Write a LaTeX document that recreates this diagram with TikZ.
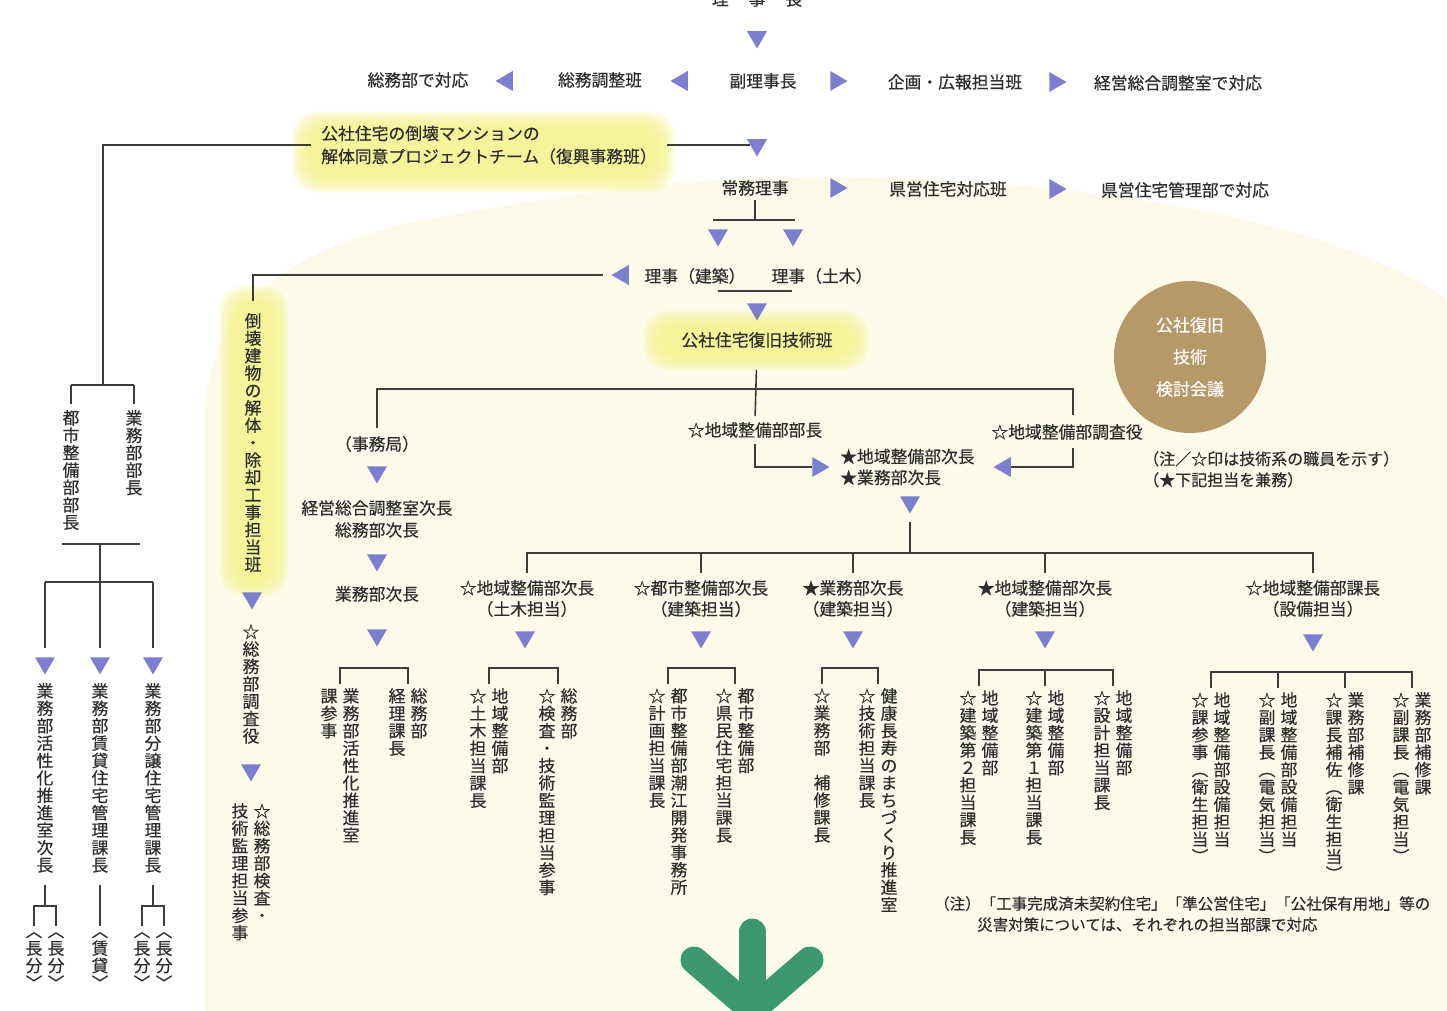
\documentclass[tikz,border=0pt]{standalone}
\usepackage{fontspec}
\setmainfont{Noto Sans CJK JP}[FakeBold=0.4]
\usetikzlibrary{shapes.geometric}
\definecolor{tricol}{RGB}{124,126,207}
\definecolor{lncol}{RGB}{60,60,60}
\definecolor{txtcol}{RGB}{45,45,45}
\definecolor{creamcol}{RGB}{252,250,233}
\definecolor{glowcol}{RGB}{247,243,140}
\definecolor{browncol}{RGB}{183,152,104}
\definecolor{greencol}{RGB}{58,152,108}

\def\vcolend{\vcolendmark}
\def\vgap{\relax}
\def\vcolA#1{\ifx#1\vcolend\else\hbox to 18pt{\hss#1\hss}\expandafter\vcolA\fi}
\newcommand\vcol[1]{\vtop{\baselineskip=17.4pt\lineskip=0pt\lineskiplimit=-100pt\vcolA#1\vcolend}}
\newcommand\vpair[2]{\hbox{\vcol{#1}\kern4pt\vcol{#2}}}
\newcommand\glowbox[5]{\foreach \k in {0,...,5}{\fill[glowcol, fill opacity=0.28, rounded corners=#5] ({#1+3*\k},{#2+3*\k}) rectangle ({#3-3*\k},{#4-3*\k});}}
\newcommand\brk[2]{\draw[conn] ([yshift=4pt]#1.north) -- ++(0,-16) -| ([yshift=4pt]#2.north);}
\newcommand\tck[1]{\draw[conn] ([yshift=4pt]#1.north) -- ++(0,-16);}

\tikzset{
  lbl/.style={inner sep=2pt, text=txtcol, font=\fontsize{16.8}{21}\selectfont},
  sml/.style={inner sep=2pt, text=txtcol, font=\fontsize{16}{21}\selectfont},
  vt/.style={inner sep=0pt, text=txtcol, font=\fontsize{16.8}{17.4}\selectfont},
  tribase/.style={regular polygon, regular polygon sides=3, fill=tricol, draw=none, minimum size=23pt, inner sep=0pt, outer sep=0pt},
  tdown/.style={tribase, regular polygon rotate=180},
  tleft/.style={tribase, regular polygon rotate=90},
  tright/.style={tribase, regular polygon rotate=-90},
  conn/.style={draw=lncol, line width=1.6pt}
}

\begin{document}
\begin{tikzpicture}[x=1pt,y=-1pt]
\useasboundingbox (0,0) rectangle (1447,1011);
\fill[white] (0,0) rectangle (1447,1011);
% cream wash
\fill[creamcol] (205,1011) -- (205,420) .. controls (205,300) and (300,240) .. (450,215) .. controls (600,190) and (700,172) .. (900,178) .. controls (1150,188) and (1350,230) .. (1447,300) -- (1447,1011) -- cycle;
% yellow glows
\glowbox{293}{112}{674}{192}{24pt}
\glowbox{220}{286}{288}{596}{24pt}
\glowbox{644}{311}{868}{370}{24pt}

% ===== top =====
\node[lbl] (chair) at (757,-1) {理\hspace{20pt}事\hspace{20pt}長};
\node[tdown] (a0) at (757,37) {};

\node[lbl] (somutaio) at (418,80) {総務部で対応};
\node[tleft] (a1) at (507,81) {};
\node[lbl] (somuchosei) at (600,80) {総務調整班};
\node[tleft] (a2) at (682,81) {};
\node[lbl] (fuku) at (763,81) {副理事長};
\node[tright] (a3) at (836,81) {};
\node[lbl] (kikaku) at (955,82) {企画・広報担当班};
\node[tright] (a4) at (1055,82) {};
\node[lbl] (keiei) at (1178,83) {経営総合調整室で対応};

% project team
\node[lbl, align=left, inner xsep=10pt, font=\fontsize{16.8}{23}\selectfont] (pt) at (489,145) {公社住宅の倒壊マンションの\\解体同意プロジェクトチーム（復興事務班）};
\node[tdown] (a5) at (757,145) {};
\draw[conn] (pt.east) -- (a5.west);

% left tree
\coordinate (j1) at (103,385);
\coordinate (j1l) at (71,385);
\coordinate (j1r) at (134,385);
\draw[conn] (pt.west) -| (j1);
\draw[conn] (j1l) -- (j1r);
\node[vt, anchor=north] (toshibucho) at (71,410) {\vcol{都市整備部部長}};
\node[vt, anchor=north] (gyomubucho) at (134,410) {\vcol{業務部部長}};
\draw[conn, shorten >=6pt] (j1l) -- (toshibucho.north);
\draw[conn, shorten >=6pt] (j1r) -- (gyomubucho.north);
\coordinate (j2l) at (62,544);
\coordinate (j2r) at (140,544);
\coordinate (j2) at (100,544);
\coordinate (j3) at (100,582);
\coordinate (j3l) at (45,582);
\coordinate (j3r) at (153,582);
\draw[conn] (j2l) -- (j2r);
\draw[conn] (j2) -- (j3);
\draw[conn] (j3l) -- (j3r);
\node[tdown] (b1) at (45,663) {};
\node[tdown] (b2) at (100,663) {};
\node[tdown] (b3) at (153,663) {};
\draw[conn, shorten >=9pt] (j3l) -- (b1.north);
\draw[conn, shorten >=9pt] (j3) -- (b2.north);
\draw[conn, shorten >=9pt] (j3r) -- (b3.north);
\node[vt, anchor=north] (c1) at (45,683) {\vcol{業務部活性化推進室次長}};
\node[vt, anchor=north] (c2) at (100,683) {\vcol{業務部賃貸住宅管理課長}};
\node[vt, anchor=north] (c3) at (153,683) {\vcol{業務部分譲住宅管理課長}};
\node[vt, anchor=north] (e1) at (34,932) {\vcol{︿長分﹀}};
\node[vt, anchor=north] (e2) at (56,932) {\vcol{︿長分﹀}};
\node[vt, anchor=north] (e3) at (100,932) {\vcol{︿賃貸﹀}};
\node[vt, anchor=north] (e4) at (142,932) {\vcol{︿長分﹀}};
\node[vt, anchor=north] (e5) at (164,932) {\vcol{︿長分﹀}};
\coordinate (d1) at (45,906);
\coordinate (d3) at (153,906);
\draw[conn, shorten <=12pt] (c1.south) -- (d1);
\draw[conn, shorten <=12pt] (c3.south) -- (d3);
\draw[conn, shorten <=12pt, shorten >=6pt] (c2.south) -- (e3.north);
\draw[conn] ([yshift=6pt]e1.north) |- (d1) -| ([yshift=6pt]e2.north);
\draw[conn] ([yshift=6pt]e4.north) |- (d3) -| ([yshift=6pt]e5.north);

% demolition team
\node[vt, anchor=north] (tokai) at (253,313) {\vcol{倒壊建物の解体・除却工事担当班}};
\node[tdown] (a9) at (252,598) {};
\node[vt, anchor=north] (chosayaku) at (251,624) {\vcol{☆総務部調査役}};
\node[tdown] (a10) at (251,770) {};
\node[vt, anchor=north] (kensa) at (251,803) {\vpair{技術監理担当参事}{☆総務部検査・}};

% center column
\node[lbl] (jomu) at (755,188) {常務理事};
\node[tright] (a11) at (836,188) {};
\node[lbl] (kenei) at (948,189) {県営住宅対応班};
\node[tright] (a12) at (1055,189) {};
\node[lbl] (kenkanri) at (1185,190) {県営住宅管理部で対応};
\coordinate (k1) at (755,220);
\coordinate (k1l) at (713,220);
\coordinate (k1r) at (795,220);
\draw[conn, shorten <=2pt] (jomu.south) -- (k1);
\draw[conn] (k1l) -- (k1r);
\node[tdown] (a13) at (718,235) {};
\node[tdown] (a14) at (793,235) {};
\node[lbl] (rijiken) at (695,276) {理事（建築）};
\node[lbl] (rijido) at (822,276) {理事（土木）};
\node[tleft] (a8) at (623,275) {};
\draw[conn, shorten <=9pt, shorten >=12pt] (a8.west) -| (tokai.north);
\coordinate (k2l) at (718,291);
\coordinate (k2r) at (792,291);
\draw[conn] (k2l) -- (k2r);
\node[tdown] (a15) at (757,309) {};
\node[lbl] (gijutsu) at (757,340) {公社住宅復旧技術班};

\node[lbl] (bucho) at (755,430) {☆地域整備部部長};
\node[lbl] (jimu) at (377,444) {（事務局）};
\node[lbl] (chosa) at (1067,432) {☆地域整備部調査役};
\coordinate (k3) at (755,389);
\coordinate (k4) at (1073,415);
\coordinate (k5) at (1073,448);
\draw[conn, shorten <=20pt, shorten >=4pt] (gijutsu.south) -- (bucho.north);
\draw[conn, shorten <=6pt] (jimu.north) |- (k3) -| (k4);

\node[tright] (a16) at (818,467) {};
\node[tleft] (a17) at (1005,467) {};
\node[lbl, align=left, anchor=west] (jicho) at (838,467) {★地域整備部次長\\★業務部次長};
\draw[conn, shorten <=4pt] (bucho.south) |- (a16.west);
\draw[conn] (k5) |- (a17.east);

% circle & notes
\node[circle, fill=browncol, minimum size=152pt, inner sep=0pt, text=white, align=center, font=\fontsize{17}{32}\selectfont] (mtg) at (1190,357) {公社復旧\\技術\\検討会議};
\node[sml, align=left, anchor=north west] (note1) at (1141,449) {（注／☆印は技術系の職員を示す）\\（★下記担当を兼務）};

% lower tree
\node[tdown] (a18) at (910,502) {};
\coordinate (m2) at (910,553);
\draw[conn, shorten <=8pt] (a18.south) -- (m2);
\node[lbl, align=center, anchor=north] (h1) at (527,578) {☆地域整備部次長\\（土木担当）};
\node[lbl, align=center, anchor=north] (h2) at (701,578) {☆都市整備部次長\\（建築担当）};
\node[lbl, align=center, anchor=north] (h3) at (853,578) {★業務部次長\\（建築担当）};
\node[lbl, align=center, anchor=north] (h4) at (1045,578) {★地域整備部次長\\（建築担当）};
\node[lbl, align=center, anchor=north] (h5) at (1313,578) {☆地域整備部課長\\（設備担当）};
\draw[conn, shorten <=5pt, shorten >=5pt] (h1.north) |- (m2) -| (h5.north);
\draw[conn, shorten <=5pt] (h2.north) -- (h2.north |- m2);
\draw[conn, shorten <=5pt] (h3.north) -- (h3.north |- m2);
\draw[conn, shorten <=5pt] (h4.north) -- (h4.north |- m2);

% jimu branch
\node[tdown] (a24) at (377,472) {};
\node[lbl, align=center, font=\fontsize{16.8}{22}\selectfont] (keicho) at (377,519) {経営総合調整室次長\\総務部次長};
\node[tdown] (a25) at (377,560) {};
\node[lbl] (gyojicho) at (377,594) {業務部次長};
\node[tdown] (a26) at (377,635) {};
\node[tdown] (a19) at (525,637) {};
\node[tdown] (a20) at (701,637) {};
\node[tdown] (a21) at (853,637) {};
\node[tdown] (a22) at (1045,637) {};
\node[tdown] (a23) at (1313,640) {};

% bottom groups
\node[vt, anchor=north] (g1a) at (340,688) {\vpair{課参事}{業務部活性化推進室}};
\node[vt, anchor=north] (g1b) at (408,688) {\vpair{経理課長}{総務部}};
\brk{g1a}{g1b}
\node[vt, anchor=north] (g2a) at (489,688) {\vpair{☆土木担当課長}{地域整備部}};
\node[vt, anchor=north] (g2b) at (558,688) {\vpair{☆検査・技術監理担当参事}{総務部}};
\brk{g2a}{g2b}
\node[vt, anchor=north] (g3a) at (668,688) {\vpair{☆計画担当課長}{都市整備部潮江開発事務所}};
\node[vt, anchor=north] (g3b) at (735,688) {\vpair{☆県民住宅担当課長}{都市整備部}};
\brk{g3a}{g3b}
\node[vt, anchor=north] (g4a) at (822,688) {\vcol{☆業務部\vgap 補修課長}};
\node[vt, anchor=north] (g4b) at (878,688) {\vpair{☆技術担当課長}{健康長寿のまちづくり推進室}};
\brk{g4a}{g4b}
\node[vt, anchor=north] (g5a) at (979,690) {\vpair{☆建築第２担当課長}{地域整備部}};
\node[vt, anchor=north] (g5b) at (1045,690) {\vpair{☆建築第１担当課長}{地域整備部}};
\node[vt, anchor=north] (g5c) at (1113,690) {\vpair{☆設計担当課長}{地域整備部}};
\brk{g5a}{g5c}
\tck{g5b}
\node[vt, anchor=north] (g6a) at (1211,692) {\vpair{☆課参事︵衛生担当︶}{地域整備部設備担当}};
\node[vt, anchor=north] (g6b) at (1278,692) {\vpair{☆副課長︵電気担当︶}{地域整備部設備担当}};
\node[vt, anchor=north] (g6c) at (1345,692) {\vpair{☆課長補佐︵衛生担当︶}{業務部補修課}};
\node[vt, anchor=north] (g6d) at (1412,692) {\vpair{☆副課長︵電気担当︶}{業務部補修課}};
\brk{g6a}{g6d}
\tck{g6b}
\tck{g6c}

\node[sml, align=left, anchor=north west, font=\fontsize{15.5}{21}\selectfont] (note2) at (932,894) {（注）「工事完成済未契約住宅」「準公営住宅」「公社保有用地」等の\\\hspace*{43pt}災害対策については、それぞれの担当部課で対応};

% green arrow
\draw[greencol, line width=27pt, line cap=round] (752,932) -- (752,1040);
\draw[greencol, line width=27pt, line cap=round, line join=round] (694,960) -- (752,1010) -- (810,960);
\end{tikzpicture}
\end{document}
